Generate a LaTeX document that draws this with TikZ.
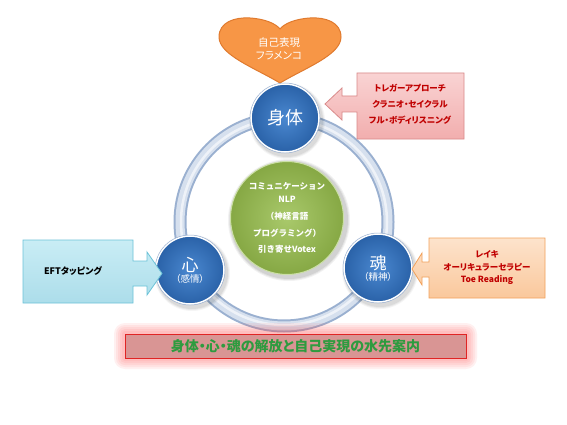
\documentclass[tikz,border=0pt]{standalone}
\usepackage{fontspec}
\setmainfont{Noto Sans CJK JP}
\newfontfamily\jpp{Noto Sans CJK JP}[RawFeature=+palt]
\definecolor{heartfill}{HTML}{F79646}
\definecolor{heartline}{HTML}{E07A2E}
\definecolor{ballin}{HTML}{4A88D0}
\definecolor{ballout}{HTML}{2A62A8}
\definecolor{ringdark}{HTML}{9AB0D0}
\definecolor{ringlight}{HTML}{D6E0EE}
\definecolor{greenin}{HTML}{A9C96B}
\definecolor{greenout}{HTML}{86A844}
\definecolor{pinktop}{HTML}{F9D3D3}
\definecolor{pinkbot}{HTML}{F2AEAE}
\definecolor{pinkline}{HTML}{D98A8A}
\definecolor{cyantop}{HTML}{C9EDF5}
\definecolor{cyanbot}{HTML}{ACDDEA}
\definecolor{cyanline}{HTML}{6CC3D8}
\definecolor{peachtop}{HTML}{FDE3CC}
\definecolor{peachbot}{HTML}{FAC89C}
\definecolor{peachline}{HTML}{F2A25C}
\definecolor{darkred}{HTML}{C00000}
\definecolor{bannerfill}{HTML}{D99594}
\definecolor{bannerline}{HTML}{E02424}
\definecolor{bannertext}{HTML}{2E9B3F}
\begin{document}
\begin{tikzpicture}[x=1pt,y=-1pt,
  ball/.style={circle, minimum size=68pt, inner sep=0pt, draw=white, line width=1.6pt,
    inner color=ballin, outer color=ballout, text=white, align=center},
  calloutline/.style={line width=0.8pt},
  ctext/.style={font=\jpp\bfseries\fontsize{8.5}{16}\selectfont, align=center}]
\useasboundingbox (0,0) rectangle (567,425);
\fill[white] (0,0) rectangle (567,425);

% ring
\coordinate (ringc) at (284,222);
\draw[ringdark, line width=13pt] (ringc) circle (104);
\draw[ringlight, line width=9pt] (ringc) circle (104);
\draw[white, opacity=0.6, line width=2.5pt] (ringc) circle (103);

% heart
\path[fill=heartfill, draw=heartline, line width=1pt]
  (280,83) .. controls (255,68) and (219,55) .. (219,37)
  .. controls (219,22) and (235,17) .. (250,18)
  .. controls (266,19) and (276,24) .. (280,29)
  .. controls (284,24) and (294,19) .. (310,18)
  .. controls (325,17) and (341,22) .. (341,37)
  .. controls (341,55) and (305,68) .. (280,83) -- cycle;
\node[text=white, align=center, font=\jpp\fontsize{10.5}{12.5}\selectfont] (heart) at (279,49) {自己表現\\フラメンコ};

% green centre
\foreach \i/\o in {4/0.05,3/0.06,2/0.07}
  \fill[black, opacity=\o] (289,220) circle (57+\i);
\node[circle, minimum size=113pt, inner sep=0pt, inner color=greenin, outer color=greenout,
  draw=greenin!60!white, line width=1pt, text=white, align=center,
  font=\bfseries\fontsize{8.5}{16.5}\selectfont] (mind) at (287,218)
  {コミュニケーション\\[-3.5pt]NLP\\[0.5pt]（神経言語\\プログラミング）\\引き寄せVotex};

% balls with soft shadows
\foreach \p in {(287,121),(192,273),(380,271)}
  \foreach \i/\o in {4/0.04,3/0.05,2/0.06}
    \fill[black, opacity=\o] \p circle (34+\i);
\node[ball, font=\fontsize{18}{20}\selectfont] (body) at (285,118) {身体};
\node[ball] (heartc) at (190,270)
  {{\fontsize{17}{19}\selectfont 心}\\[-1pt]{\jpp\fontsize{9.5}{11}\selectfont （感情）}};
\node[ball] (soul) at (378,268)
  {{\fontsize{17}{19}\selectfont 魂}\\[-1pt]{\jpp\fontsize{9.5}{11}\selectfont （精神）}};
\foreach \n in {body,heartc,soul}
  \draw[ringdark, line width=0.5pt] (\n.center) circle (35);

% top-right callout
\path[calloutline, draw=pinkline, top color=pinktop, bottom color=pinkbot]
  (464,73) -- (357,73) -- (357,96) -- (342,96) -- (342,88) -- (325,104)
  -- (342,120) -- (342,112) -- (357,112) -- (357,139) -- (464,139) -- cycle;
\node[ctext, text=darkred] (trtext) at (410,104)
  {トレガーアプローチ\\クラニオ・セイクラル\\フル・ボディリスニング};

% EFT callout
\path[calloutline, draw=cyanline, top color=cyantop, bottom color=cyanbot]
  (23,240) -- (133,240) -- (133,261) -- (147,261) -- (147,252) -- (162,273.5)
  -- (147,295) -- (147,286) -- (133,286) -- (133,303) -- (23,303) -- cycle;
\node[ctext, text=black, font=\jpp\bfseries\fontsize{9}{11}\selectfont] (eft) at (73,271) {EFTタッピング};

% Reiki callout
\path[calloutline, draw=peachline, top color=peachtop, bottom color=peachbot]
  (545,238) -- (429,238) -- (429,262) -- (422,262) -- (422,253) -- (412,269)
  -- (422,285) -- (422,277) -- (429,277) -- (429,298) -- (545,298) -- cycle;
\node[ctext, text=darkred, font=\jpp\bfseries\fontsize{8.5}{12.5}\selectfont] (reiki) at (487,268)
  {レイキ\\オーリキュラーセラピー\\Toe Reading};

% banner with glow
\foreach \i in {11,9,7,5,3}
  \fill[red!75, opacity=0.08, rounded corners=\i] (125-\i,334-\i) rectangle (466+\i,358+\i);
\node[draw=bannerline, line width=0.8pt, fill=bannerfill, minimum width=341pt, minimum height=24pt,
  inner sep=0pt, text=bannertext, font=\jpp\bfseries\fontsize{14}{15}\selectfont] (banner) at (295.5,346)
  {身体・心・魂の解放と自己実現の水先案内};
\end{tikzpicture}
\end{document}
